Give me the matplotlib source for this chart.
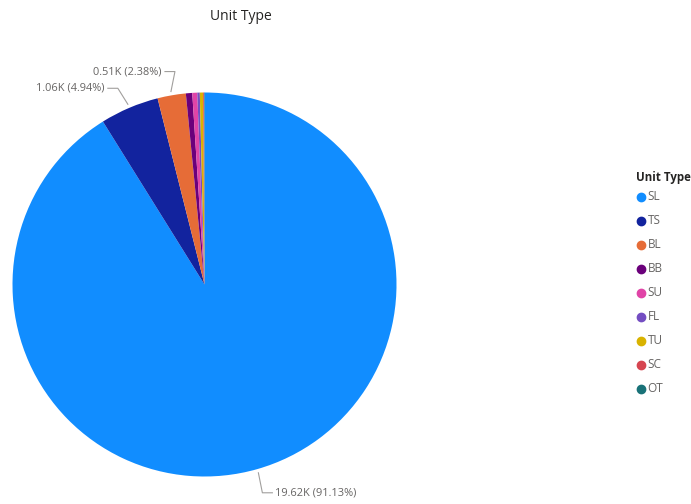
import numpy as np
import matplotlib.pyplot as plt

plt.rcParams["font.family"] = ["Open Sans", "DejaVu Sans"]

# unit counts in thousands
unit_types = ["SL", "TS", "BL", "BB", "SU", "FL", "TU", "SC", "OT"]
counts_k = [19.620, 1.064, 0.512, 0.115, 0.090, 0.045, 0.060, 0.015, 0.009]
colors = ["#118DFF", "#12239E", "#E66C37", "#6B007B", "#E044A7",
          "#744EC2", "#D9B300", "#D64550", "#197278"]
# which slices get an outside label, and where the elbow sits relative to the anchor
labelled = {"SL": (4, 20, "left"), "TS": (-10, -16, "right"), "BL": (4, -20, "right")}

W, H = 691, 504
fig = plt.figure(figsize=(W / 100, H / 100), dpi=100)

cx, cy, r = 204.5, 284.5, 192
ax = fig.add_axes([(cx - r) / W, (H - cy - r) / H, 2 * r / W, 2 * r / H])

wedges, _ = ax.pie(counts_k, colors=colors, startangle=90, counterclock=False,
                   radius=1, wedgeprops=dict(linewidth=0))
ax.set_xlim(-1, 1)
ax.set_ylim(-1, 1)
ax.axis("off")

total = sum(counts_k)
label_color = "#666463"


def to_fig(px, py):
    return px / W, 1 - py / H


for w, name, val in zip(wedges, unit_types, counts_k):
    if name not in labelled:
        continue
    dx, dy, side = labelled[name]
    mid = np.deg2rad((w.theta1 + w.theta2) / 2)
    # anchor just outside the slice edge (pixel coords, y down)
    ax_px = cx + r * 1.02 * np.cos(mid)
    ay_px = cy - r * 1.02 * np.sin(mid)
    ex, ey = ax_px + dx, ay_px + dy
    hx = ex + (10 if side == "left" else -10)
    xs = [ax_px, ex, hx]
    ys = [ay_px, ey, ey]
    fig.add_artist(plt.Line2D([x / W for x in xs], [1 - y / H for y in ys],
                              color="#A19F9D", linewidth=0.8))
    tx = hx + (3 if side == "left" else -3)
    fig.text(*to_fig(tx, ey), f"{val:.2f}K ({val / total * 100:.2f}%)",
             ha=side, va="center", fontsize=7.9, color=label_color)

fig.text(*to_fig(241, 17), "Unit Type", ha="center", va="center",
         fontsize=10, color="#252423")

# legend
fig.text(*to_fig(636, 177), "Unit Type", ha="left", va="center",
         fontsize=8.3, fontweight="bold", color="#252423")
for i, (name, c) in enumerate(zip(unit_types, colors)):
    y = 197 + i * 24
    fig.add_artist(plt.Line2D([640.5 / W], [1 - y / H], marker="o", markersize=6,
                              color=c, linestyle="none"))
    fig.text(*to_fig(647.5, y), name, ha="left", va="center",
             fontsize=8.5, color=label_color)

fig.savefig("out.png", dpi=100, facecolor="white")
